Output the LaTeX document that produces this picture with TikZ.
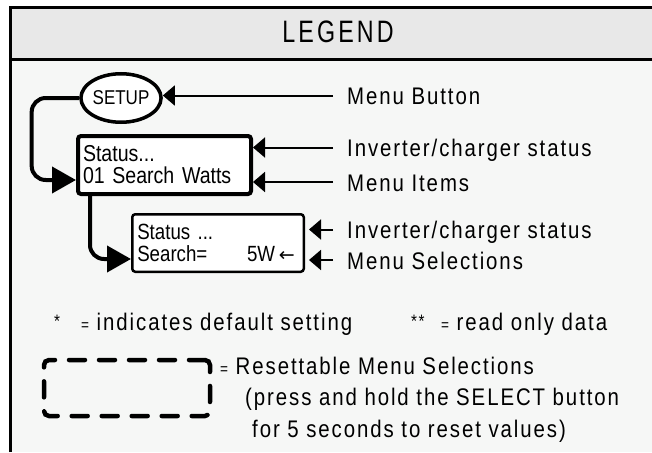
\documentclass[tikz,border=0pt]{standalone}
\usepackage{fontspec}
\setmainfont{Liberation Sans}[FakeStretch=0.85]
\newfontfamily\spaced{Liberation Sans}[FakeStretch=0.85,LetterSpace=8]
\newfontfamily\titlefam{Liberation Sans}[FakeStretch=0.75,LetterSpace=10]
\newfontfamily\arrowfam{DejaVu Sans}
\usetikzlibrary{arrows.meta,shapes.geometric}
\definecolor{headgray}{HTML}{E8E8E8}
\definecolor{panel}{HTML}{F6F7F6}
\newcommand\lblfont{\spaced\fontsize{24}{26}\selectfont}
\newcommand\eqsize{\fontsize{16}{16}\selectfont}
\newcommand\starsize{\spaced\fontsize{18}{18}\selectfont}
\begin{document}
\begin{tikzpicture}[x=1pt,y=-1pt,
 pointer/.style={line width=2pt,-{Triangle[length=12pt,width=20pt]}},
 loopline/.style={line width=4pt,rounded corners=14pt,-{Triangle[length=24pt,width=26pt]}},
 lcd/.style={draw,fill=white,rounded corners=3pt,align=left,inner xsep=5pt},
 lbl/.style={anchor=west,inner xsep=14pt,inner ysep=0pt,text height=18pt,text depth=0pt,font=\lblfont},
 note/.style={anchor=base west,inner sep=0pt,font=\lblfont}]
\useasboundingbox (0,0) rectangle (652,452);
\fill[panel] (10.5,7.5) rectangle (652,452);
\fill[headgray] (10.5,7.5) rectangle (652,59.5);
\draw[line width=3pt] (10.5,452) -- (10.5,7.5) -- (652,7.5);
\draw[line width=2.5pt] (10.5,59.5) -- (652,59.5);
\node[anchor=base,font=\titlefam\fontsize{31}{33}\selectfont] (title) at (338,43) {LEGEND};
\node[ellipse,draw,fill=white,line width=3.5pt,minimum width=76.5pt,minimum height=48.5pt,inner sep=0pt,font=\fontsize{20}{22}\selectfont] (setup) at (121,98) {SETUP};
\node[lcd,line width=4pt,minimum width=173pt,minimum height=58pt,text width=163pt,font=\fontsize{23}{22}\selectfont] (items) at (164.5,165) {Status...\\01 Search Watts};
\node[lcd,line width=2.5pt,minimum width=171.5pt,minimum height=57.5pt,text width=161.5pt,font=\fontsize{22}{22}\selectfont] (selbox) at (218,243) {Status ...\\Search=\hskip0pt plus1fill 5W\,{\arrowfam\fontsize{19}{19}\selectfont ←}\kern4pt};
\node[lbl] (lbtn) at (333,95.5) {Menu Button};
\node[lbl] (lstat) at (333,147.5) {Inverter/charger status};
\node[lbl] (litems) at (333,182) {Menu Items};
\node[lbl] (lstat2) at (333,229.5) {Inverter/charger status};
\node[lbl] (lsel) at (333,260) {Menu Selections};
\foreach \l/\b/\g in {lbtn/setup/0,lstat/items/0,litems/items/0,lstat2/selbox/4,lsel/selbox/4}
 {\draw[pointer,shorten >=\g] (\l.west) -- (\l.west -| \b.east);}
\draw[loopline] (setup.west) -- ++(-47.5,0) |- ([yshift=-15pt]items.west);
\draw[loopline] ([xshift=14pt]items.south west) |- ([yshift=-16pt]selbox.west);
\node[note,font=\starsize] (star) at (54,327) {*};
\node[note] (dflt) at (81,330) {{\eqsize=} indicates default setting};
\node[note,font=\starsize] (stars) at (411,327) {**};
\node[note] (ronly) at (441,330) {{\eqsize=} read only data};
\node[draw,line width=4.5pt,dash pattern=on 16pt off 14pt,line cap=round,rounded corners=5pt,minimum width=166pt,minimum height=56pt,inner sep=0pt] (resetbox) at (127,388) {};
\node[note] (reset) at (220,374) {{\eqsize=} Resettable Menu Selections};
\node[note] (press) at (245,405) {(press and hold the SELECT button};
\node[note] (secs) at (252,437) {for 5 seconds to reset values)};
\end{tikzpicture}
\end{document}
